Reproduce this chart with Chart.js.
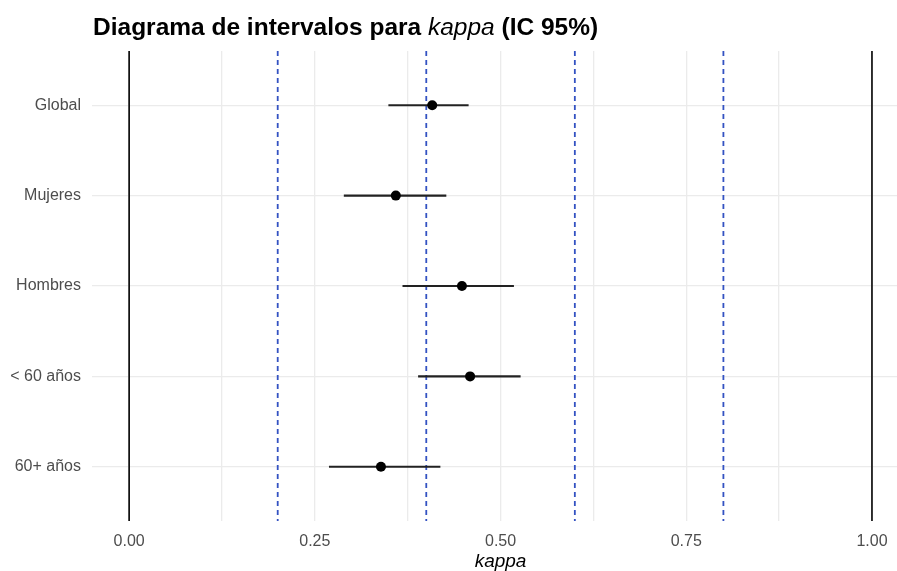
<!DOCTYPE html>
<html>
<head>
<meta charset="utf-8">
<script src="https://cdn.jsdelivr.net/npm/chart.js@4"></script>
<style>
  body { margin: 0; background: #fff; }
  canvas { display: block; }
</style>
</head>
<body>
<canvas id="grafico" width="897" height="571"></canvas>
<script>
// datos
const grupos = ['Global', 'Mujeres', 'Hombres', '< 60 años', '60+ años'];
const kappa = [0.408, 0.359, 0.448, 0.459, 0.339];
const icInf = [0.349, 0.289, 0.368, 0.389, 0.269];
const icSup = [0.457, 0.427, 0.518, 0.527, 0.419];
const cortes = [0.2, 0.4, 0.6, 0.8];   // líneas azules discontinuas
const limites = [0, 1];                // líneas negras
const xTicks = [0, 0.125, 0.25, 0.375, 0.5, 0.625, 0.75, 0.875, 1];

const yMin = 0.4, yMax = 5.6;
const fuente = '"Liberation Sans", Arial, sans-serif';

function lineaVertical(x, color, dash, ancho) {
    return {
        type: 'scatter',
        showLine: true,
        data: [{ x: x, y: yMin }, { x: x, y: yMax }],
        borderColor: color,
        borderWidth: ancho,
        borderDash: dash,
        pointRadius: 0
    };
}

const datasets = [];

// puntos (primero = encima)
datasets.push({
    type: 'scatter',
    data: kappa.map((k, i) => ({ x: k, y: i + 1 })),
    backgroundColor: '#000',
    borderColor: '#000',
    pointRadius: 5,
    pointBorderWidth: 0
});

// intervalos de confianza
grupos.forEach((g, i) => {
    datasets.push({
        type: 'scatter',
        showLine: true,
        data: [{ x: icInf[i], y: i + 1 }, { x: icSup[i], y: i + 1 }],
        borderColor: '#222',
        borderWidth: 2.2,
        pointRadius: 0
    });
});

cortes.forEach(c => datasets.push(lineaVertical(c, '#3352c2', [5, 4], 1.8)));
limites.forEach(l => datasets.push(lineaVertical(l, '#111', [], 1.7)));

const titulo = {
    id: 'titulo',
    afterDraw(chart) {
        const ctx = chart.ctx;
        ctx.save();
        ctx.fillStyle = '#000';
        ctx.textBaseline = 'middle';
        ctx.textAlign = 'left';
        const partes = [
            ['Diagrama de intervalos para ', 'bold 24.5px ' + fuente],
            ['kappa', 'italic 24.5px ' + fuente],
            [' (IC 95%)', 'bold 24.5px ' + fuente]
        ];
        let x = 93;
        partes.forEach(p => {
            ctx.font = p[1];
            ctx.fillText(p[0], x, 28);
            x += ctx.measureText(p[0]).width;
        });
        // título del eje x
        const xs = chart.scales.x;
        ctx.font = 'italic 19px ' + fuente;
        ctx.textAlign = 'center';
        ctx.fillText('kappa', xs.getPixelForValue(0.5), 562);
        ctx.restore();
    }
};

new Chart(document.getElementById('grafico'), {
    type: 'scatter',
    data: { datasets: datasets },
    options: {
        responsive: false,
        animation: false,
        layout: { autoPadding: false, padding: { left: 0, right: 0, top: 51, bottom: 0 } },
        plugins: {
            legend: { display: false },
            tooltip: { enabled: false }
        },
        scales: {
            x: {
                type: 'linear',
                min: -0.05,
                max: 1.0337,
                afterBuildTicks: function(scale) {
                    scale.ticks = xTicks.map(v => ({ value: v }));
                },
                afterFit: function(scale) {
                    scale.height = 50;
                    scale.paddingLeft = 0;
                    scale.paddingRight = 0;
                },
                ticks: {
                    autoSkip: false,
                    maxRotation: 0,
                    padding: 11,
                    color: '#4d4d4d',
                    font: { family: fuente, size: 16 },
                    callback: function(v, i) {
                        return i % 2 === 0 ? v.toFixed(2) : '';
                    }
                },
                grid: { color: '#ebebeb', lineWidth: 1.3, drawTicks: false },
                border: { display: false }
            },
            y: {
                type: 'linear',
                reverse: true,
                min: yMin,
                max: yMax,
                afterBuildTicks: function(scale) {
                    scale.ticks = grupos.map((g, i) => ({ value: i + 1 }));
                },
                afterFit: function(scale) {
                    scale.width = 92;
                    scale.paddingTop = 0;
                    scale.paddingBottom = 0;
                },
                ticks: {
                    autoSkip: false,
                    padding: 11,
                    color: '#4d4d4d',
                    font: { family: fuente, size: 16 },
                    callback: function(v) {
                        return grupos[v - 1];
                    }
                },
                grid: { color: '#ebebeb', lineWidth: 1.3, drawTicks: false },
                border: { display: false }
            }
        }
    },
    plugins: [titulo]
});
</script>
</body>
</html>
